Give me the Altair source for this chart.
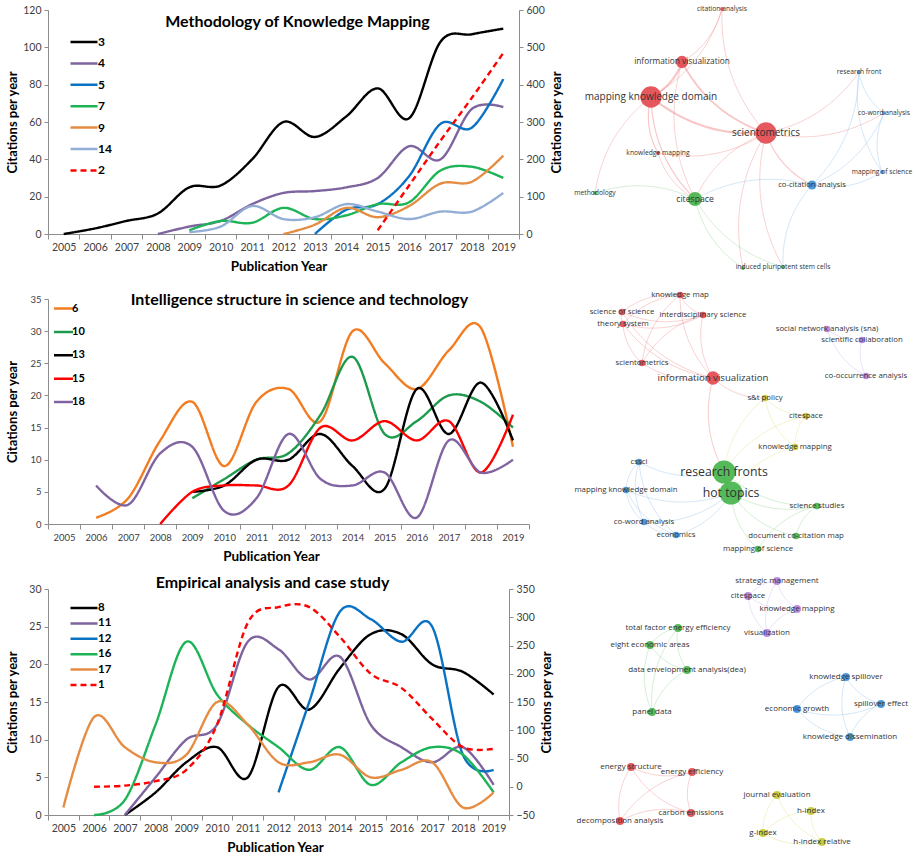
import numpy as np
import pandas as pd
import altair as alt

# ------------------------------------------------------------------ data
YEARS = [2005, 2006, 2007, 2008, 2009, 2010, 2011, 2012, 2013, 2014, 2015, 2016, 2017, 2018, 2019]

# Panel A : Methodology of Knowledge Mapping
A_NAMES = ["3", "4", "5", "7", "9", "14"]
A_3 = [0, 3, 7, 11, 25, 26, 40, 60, 52, 63, 78, 62, 103, 107, 110]
A_4 = [None, None, None, 0, 4, 7, 16, 22, 23, 25, 30, 47, 40, 67, 68]
A_5 = [None, None, None, None, None, None, None, None, 0, 13, 16, 31, 59, 57, 83]
A_7 = [None, None, None, None, 2, 7, 6, 14, 8, 10, 16, 17, 34, 36, 30]
A_9 = [None, None, None, None, None, None, None, 0, 5, 14, 9, 15, 27, 28, 42]
A_14 = [None, None, None, None, 1, 4, 15, 8, 9, 16, 12, 8, 12, 12, 22]
A_RIGHT_NAME = "2"
A_2 = [None, None, None, None, None, None, None, None, None, None, 10, 130, 250, 365, 485]

# Panel B : Intelligence structure in science and technology
B_NAMES = ["6", "10", "13", "15", "18"]
B_6 = [None, 1, 4, 13, 19, 9, 19, 21, 16, 30, 25, 21, 27, 30.5, 12]
B_10 = [None, None, None, None, 4, 7, 10, 11, 17, 26, 14, 16, 20, 19, 15]
B_13 = [None, None, None, None, 5, 6, 10, 10, 14, 9, 5.5, 21, 14, 22, 13]
B_15 = [None, None, None, 0, 5, 6, 6, 6, 15, 13, 16, 13, 16, 8, 17]
B_18 = [None, 6, 3, 11, 12, 2, 4, 14, 7, 6, 8, 1, 13, 8, 10]

# Panel C : Empirical analysis and case study
C_NAMES = ["8", "11", "12", "16", "17"]
C_8 = [None, None, 0, 3, 7, 9, 5, 17, 14, 19.5, 24, 24, 20, 19, 16]
C_11 = [None, None, 0, 5, 10, 12, 23, 22, 18, 21, 12, 9, 7, 9, 4]
C_12 = [None, None, None, None, None, None, None, 3, 15, 27, 26, 23, 25, 8, 6]
C_16 = [None, 0, 2, 12, 23, 16, 12, 9, 6, 9, 4, 7, 9, 8, 3]
C_17 = [1, 13, 9, 7, 8, 15, 12, 7, 7, 8, 5, 6, 7, 1, 3]
C_RIGHT_NAME = "1"
C_1 = [None, 0, 2, 10, 30, 110, 290, 318, 318, 265, 200, 175, 120, 70, 67]

# Keyword networks (layout coordinates, weight, cluster)
N1_ID = ["citation analysis", "information visualization", "mapping knowledge domain",
         "scientometrics", "knowledge mapping", "methodology", "citespace",
         "co-citation analysis", "research front", "co-word analysis", "mapping of science",
         "induced (hidden)", "induced pluripotent stem cells"]
N1_TEXT = ["citation analysis", "information visualization", "mapping knowledge domain",
           "scientometrics", "knowledge mapping", "methodology", "citespace",
           "co-citation analysis", "research front", "co-word analysis", "mapping of science",
           "", "induced pluripotent stem cells"]
N1_X = [163, 123, 92, 207, 99, 36, 136, 253, 300, 325, 323, 184, 224]
N1_Y = [9, 62, 97, 133, 153, 193, 199, 185, 72, 113, 172, 268, 267]
N1_W = [1.5, 15, 45, 45, 1.5, 1.5, 20, 8, 1.5, 1.5, 1.5, 1.5, 1.5]
N1_C = ["red", "red", "red", "red", "red", "green", "green", "blue", "blue", "blue", "blue", "green", "green"]
N1_EDGES = [
    ("mapping knowledge domain", "information visualization", 3),
    ("mapping knowledge domain", "scientometrics", 3),
    ("information visualization", "scientometrics", 2.5),
    ("mapping knowledge domain", "citation analysis", 1),
    ("information visualization", "citation analysis", 1),
    ("citation analysis", "scientometrics", 1),
    ("mapping knowledge domain", "knowledge mapping", 1.5),
    ("mapping knowledge domain", "citespace", 1.5),
    ("mapping knowledge domain", "methodology", 1),
    ("knowledge mapping", "scientometrics", 1),
    ("knowledge mapping", "citespace", 1),
    ("information visualization", "citespace", 1),
    ("scientometrics", "citespace", 1),
    ("scientometrics", "research front", 1),
    ("scientometrics", "co-word analysis", 1),
    ("scientometrics", "co-citation analysis", 1.5),
    ("scientometrics", "induced (hidden)", 1),
    ("scientometrics", "induced pluripotent stem cells", 1),
    ("citespace", "methodology", 1),
    ("citespace", "induced (hidden)", 1),
    ("citespace", "induced pluripotent stem cells", 1),
    ("co-citation analysis", "citespace", 1),
    ("co-citation analysis", "research front", 1),
    ("co-citation analysis", "co-word analysis", 1),
    ("co-citation analysis", "mapping of science", 1),
    ("research front", "co-word analysis", 1),
    ("research front", "mapping of science", 1),
    ("co-word analysis", "mapping of science", 1),
    ("co-citation analysis", "induced pluripotent stem cells", 1),
]

N2_ID = ["knowledge map", "science of science", "interdisciplinary science", "theory system",
         "scientometrics", "information visualization", "social network analysis (sna)",
         "scientific collaboration", "co-occurrence analysis", "s&t policy", "citespace",
         "knowledge mapping", "cssci", "research fronts", "hot topics",
         "mapping knowledge domain", "science studies", "co-word analysis", "economics",
         "document co-citation map", "mapping of science"]
N2_X = [121, 63, 144, 64, 83, 154, 268, 303, 307, 206, 247, 236, 80, 165, 172, 67, 258, 85, 117, 237, 199]
N2_Y = [15, 32, 35, 44, 83, 98, 49, 60, 96, 118, 136, 167, 182, 192, 213, 210, 226, 242, 255, 256, 269]
N2_W = [5, 5, 5, 5, 5, 20, 5, 5, 5, 5, 5, 5, 5, 60, 60, 5, 5, 5, 5, 5, 5]
N2_C = ["red", "red", "red", "red", "red", "red", "purple", "purple", "purple", "yellow", "yellow",
        "yellow", "blue", "green", "green", "blue", "green", "blue", "blue", "green", "green"]
N2_EDGES = [
    ("knowledge map", "science of science", 1), ("knowledge map", "theory system", 1),
    ("knowledge map", "interdisciplinary science", 1), ("knowledge map", "scientometrics", 1),
    ("knowledge map", "information visualization", 1),
    ("science of science", "interdisciplinary science", 1), ("science of science", "theory system", 1),
    ("science of science", "information visualization", 1),
    ("theory system", "interdisciplinary science", 1), ("theory system", "scientometrics", 1),
    ("theory system", "information visualization", 1),
    ("interdisciplinary science", "scientometrics", 1),
    ("interdisciplinary science", "information visualization", 1),
    ("scientometrics", "information visualization", 1),
    ("information visualization", "research fronts", 1.2),
    ("information visualization", "s&t policy", 1),
    ("s&t policy", "citespace", 1), ("s&t policy", "knowledge mapping", 1),
    ("citespace", "knowledge mapping", 1), ("s&t policy", "research fronts", 1),
    ("citespace", "research fronts", 1), ("knowledge mapping", "hot topics", 1),
    ("cssci", "mapping knowledge domain", 1), ("cssci", "co-word analysis", 1),
    ("cssci", "economics", 1), ("mapping knowledge domain", "co-word analysis", 1),
    ("co-word analysis", "economics", 1), ("mapping knowledge domain", "economics", 1),
    ("cssci", "research fronts", 1), ("mapping knowledge domain", "hot topics", 1),
    ("co-word analysis", "hot topics", 1), ("economics", "hot topics", 1),
    ("research fronts", "hot topics", 2),
    ("hot topics", "science studies", 1), ("hot topics", "document co-citation map", 1),
    ("hot topics", "mapping of science", 1), ("science studies", "document co-citation map", 1),
    ("science studies", "mapping of science", 1), ("research fronts", "science studies", 1),
    ("social network analysis (sna)", "scientific collaboration", 1),
    ("social network analysis (sna)", "co-occurrence analysis", 1),
    ("scientific collaboration", "co-occurrence analysis", 1),
]

N3_ID = ["strategic management", "citespace", "knowledge mapping", "visualization",
         "total factor energy efficiency", "eight economic areas", "data envelopment analysis(dea)",
         "panel data", "knowledge spillover", "economic growth", "spillover effect",
         "knowledge dissemination", "energy structure", "energy efficiency", "carbon emissions",
         "decomposition analysis", "journal evaluation", "h-index", "g-index", "h-index relative"]
N3_X = [218, 189, 238, 208, 119, 91, 128, 93, 287, 238, 322, 291, 72, 133, 132, 61, 218, 252, 204, 263]
N3_Y = [16, 31, 44, 68, 63, 80, 105, 147, 112, 144, 139, 172, 202, 207, 248, 256, 230, 246, 268, 277]
N3_W = [5, 5, 5, 5, 5, 5, 5, 5, 5, 5, 5, 5, 5, 5, 5, 5, 5, 5, 5, 5]
N3_C = ["purple", "purple", "purple", "purple", "green", "green", "green", "green",
        "blue", "blue", "blue", "blue", "red", "red", "red", "red",
        "yellow", "yellow", "yellow", "yellow"]
N3_EDGES = [
    ("strategic management", "citespace", 1), ("strategic management", "knowledge mapping", 1),
    ("strategic management", "visualization", 1), ("citespace", "knowledge mapping", 1),
    ("citespace", "visualization", 1), ("knowledge mapping", "visualization", 1),
    ("total factor energy efficiency", "eight economic areas", 1),
    ("total factor energy efficiency", "data envelopment analysis(dea)", 1),
    ("total factor energy efficiency", "panel data", 1),
    ("eight economic areas", "data envelopment analysis(dea)", 1),
    ("eight economic areas", "panel data", 1),
    ("data envelopment analysis(dea)", "panel data", 1),
    ("knowledge spillover", "economic growth", 1), ("knowledge spillover", "spillover effect", 1),
    ("knowledge spillover", "knowledge dissemination", 1), ("economic growth", "spillover effect", 1),
    ("economic growth", "knowledge dissemination", 1), ("spillover effect", "knowledge dissemination", 1),
    ("energy structure", "carbon emissions", 1), ("energy structure", "decomposition analysis", 1),
    ("energy efficiency", "decomposition analysis", 1), ("energy efficiency", "carbon emissions", 1),
    ("carbon emissions", "decomposition analysis", 1), ("energy structure", "energy efficiency", 1),
    ("journal evaluation", "h-index relative", 1), ("journal evaluation", "g-index", 1),
    ("h-index", "g-index", 1), ("h-index", "h-index relative", 1), ("g-index", "h-index relative", 1),
]

# ------------------------------------------------------------------ styles
FONT = "Lato"
NET_FONT = "Open Sans"
AXIS_GRAY = "#8c8c8c"
LABEL_COLOR = "#404040"
CLUSTERS = ["red", "green", "blue", "yellow", "purple"]
NODE_COLORS = ["#e2474c", "#43b347", "#3a8fd6", "#c6c62c", "#b280df"]
EDGE_COLORS = ["#ee8284", "#8bd189", "#8abbe9", "#dede72", "#cdaaee"]

A_COLORS = ["#000000", "#7e649e", "#0a72c2", "#1db457", "#e58c43", "#93aed6", "#ff0000"]
B_COLORS = ["#f47c20", "#1e9a4c", "#000000", "#ff0000", "#8064a2"]
C_COLORS = ["#000000", "#7e649e", "#0a72c2", "#1db457", "#e58c43", "#ff0000"]


def long_df(names, arrays):
    rows = []
    for n, arr in zip(names, arrays):
        for yr, v in zip(YEARS, arr):
            if v is not None:
                rows.append({"year": yr, "value": v, "series": n})
    return pd.DataFrame(rows)


def x_enc(show_axis, label_size, title_x):
    if show_axis:
        axis = alt.Axis(title="Publication Year", labelAngle=0, tickBand="extent", tickSize=5,
                        tickColor=AXIS_GRAY, domainColor=AXIS_GRAY, labelColor=LABEL_COLOR,
                        labelFont=FONT, labelFontSize=label_size, labelPadding=3,
                        titleFont=FONT, titleFontSize=13.5, titleFontWeight="bold", titleColor="black",
                        titleX=title_x, titleY=32, titleBaseline="middle", titleAlign="center",
                        grid=False, labelOverlap=False)
    else:
        axis = None
    return alt.X("year:O", scale=alt.Scale(type="band", domain=YEARS, paddingInner=0, paddingOuter=0),
                 bandPosition=0.5, axis=axis)


def y_axis(orient, ticks, height, label_size, title_x):
    return alt.Axis(orient=orient, title="Citations per year", values=ticks, tickSize=4,
                    tickColor=AXIS_GRAY, domainColor=AXIS_GRAY, labelColor=LABEL_COLOR,
                    labelFont=FONT, labelFontSize=label_size, labelPadding=3,
                    titleFont=FONT, titleFontSize=13, titleFontWeight="bold", titleColor="black",
                    titleAngle=270, titleX=title_x, titleY=height / 2, titleBaseline="middle",
                    titleAlign="center", grid=False)


def line_layers(names, arrays, colors, right_name, right_arr, ldom, lticks, rdom, rticks,
                height, label_size, legend_cfg, title_x):
    all_names = names + ([right_name] if right_name else [])
    dashes = [[1, 0]] * len(names) + ([[6, 4]] if right_name else [])
    leg = alt.Legend(title=None, orient="none", legendX=legend_cfg["x"], legendY=legend_cfg["y"],
                     symbolType="M-3,0H3", symbolSize=legend_cfg["size"], symbolStrokeWidth=2.5,
                     labelFont=FONT, labelFontSize=legend_cfg["font"], labelFontWeight="bold",
                     labelColor="black", rowPadding=legend_cfg["row"], labelOffset=legend_cfg["off"],
                     padding=0)
    color = alt.Color("series:N", scale=alt.Scale(domain=all_names, range=colors), legend=leg)
    dash = alt.StrokeDash("series:N", scale=alt.Scale(domain=all_names, range=dashes), legend=leg)
    left = alt.Chart(long_df(names, arrays)).mark_line(
        interpolate="cardinal", tension=0, strokeWidth=2.4
    ).encode(
        x=x_enc(True, label_size, title_x),
        y=alt.Y("value:Q", scale=alt.Scale(domain=ldom, nice=False, zero=False),
                axis=y_axis("left", lticks, height, label_size, -36)),
        color=color, strokeDash=dash,
    )
    layers = [left]
    if right_name:
        right = alt.Chart(long_df([right_name], [right_arr])).mark_line(
            interpolate="cardinal", tension=0, strokeWidth=2.4
        ).encode(
            x=x_enc(False, label_size, title_x),
            y=alt.Y("value:Q", scale=alt.Scale(domain=rdom, nice=False, zero=False),
                    axis=y_axis("right", rticks, height, label_size, 37)),
            color=color, strokeDash=dash,
        )
        layers.append(right)
    return layers


def network_layers(ids, texts, xs, ys, ws, cs, edges, yr, ydom, wmax, area_max, font_rng):
    pos = {i: (x, y) for i, x, y in zip(ids, xs, ys)}
    clus = {i: c for i, c in zip(ids, cs)}
    ts = np.linspace(0.0, 1.0, 17)
    rows = []
    for k, (a, b, s) in enumerate(edges):
        p0 = np.array(pos[a], dtype=float)
        p2 = np.array(pos[b], dtype=float)
        d = p2 - p0
        ctrl = (p0 + p2) / 2 + 0.2 * np.array([-d[1], d[0]])
        for j, t in enumerate(ts):
            p = (1 - t) ** 2 * p0 + 2 * (1 - t) * t * ctrl + t ** 2 * p2
            rows.append({"edge": k, "t": j, "x": p[0], "y": p[1], "cluster": clus[a], "s": s})
    edf = pd.DataFrame(rows)
    ndf = pd.DataFrame({"id": ids, "text": texts, "x": xs, "y": ys, "w": ws, "cluster": cs})
    xsc = alt.Scale(domain=[0, 356], range=[511, 867], nice=False, zero=False)
    ysc = alt.Scale(domain=[0, ydom], range=yr, nice=False, zero=False)
    X = alt.X("x:Q", scale=xsc, axis=None)
    Y = alt.Y("y:Q", scale=ysc, axis=None)
    e = alt.Chart(edf).mark_line(strokeOpacity=0.45).encode(
        x=X, y=Y, detail="edge:N", order="t:Q",
        stroke=alt.Stroke("cluster:N", scale=alt.Scale(domain=CLUSTERS, range=EDGE_COLORS), legend=None),
        strokeWidth=alt.StrokeWidth("s:Q", scale=alt.Scale(domain=[1, 3], range=[0.8, 2.2]), legend=None),
    )
    n = alt.Chart(ndf).mark_circle(opacity=0.9, strokeWidth=0).encode(
        x=X, y=Y,
        fill=alt.Fill("cluster:N", scale=alt.Scale(domain=CLUSTERS, range=NODE_COLORS), legend=None),
        size=alt.Size("w:Q", scale=alt.Scale(domain=[0, wmax], range=[0, area_max], nice=False), legend=None),
    )
    t = alt.Chart(ndf).mark_text(font=NET_FONT, color="#333333", align="center", baseline="middle").encode(
        x=X, y=Y, text="text:N",
        size=alt.Size("w:Q", scale=alt.Scale(type="sqrt", domain=[0, wmax], range=font_rng, nice=False),
                      legend=None),
    )
    return [e, n, t]


def title(text, dx, dy):
    return alt.TitleParams(text=text, anchor="middle", frame="group", baseline="middle", offset=0,
                           dx=dx, dy=dy, font=FONT, fontSize=16, fontWeight="bold", color="black")


# ------------------------------------------------------------------ rows
W1, H1 = 471, 224
row1 = alt.layer(
    *line_layers(A_NAMES, [A_3, A_4, A_5, A_7, A_9, A_14], A_COLORS, A_RIGHT_NAME, A_2,
                 [0, 120], [0, 20, 40, 60, 80, 100, 120], [0, 600], [0, 100, 200, 300, 400, 500, 600],
                 H1, 10.5, {"x": 30, "y": 26, "size": 81, "font": 12, "row": 9.4, "off": 8}, W1 / 2 - 5),
    *network_layers(N1_ID, N1_TEXT, N1_X, N1_Y, N1_W, N1_C, N1_EDGES, [-10, 270], 280, 45, 452, [6, 10]),
).resolve_scale(x="independent", y="independent", size="independent").properties(
    width=W1, height=H1, title=title("Methodology of Knowledge Mapping", 14, 33))

W2, H2 = 481, 225
row2 = alt.layer(
    *line_layers(B_NAMES, [B_6, B_10, B_13, B_15, B_18], B_COLORS, None, None,
                 [0, 35], [0, 5, 10, 15, 20, 25, 30, 35], None, None,
                 H2, 9.5, {"x": 10, "y": 4, "size": 40, "font": 11, "row": 11.4, "off": 3}, 223),
    *network_layers(N2_ID, N2_ID, N2_X, N2_Y, N2_W, N2_C, N2_EDGES, [-19, 271], 290, 60, 530, [6, 12.3]),
).resolve_scale(x="independent", y="independent", size="independent").properties(
    width=W2, height=H2, title=title("Intelligence structure in science and technology", 11, 25))

W3, H3 = 461, 226
row3 = alt.layer(
    *line_layers(C_NAMES, [C_8, C_11, C_12, C_16, C_17], C_COLORS, C_RIGHT_NAME, C_1,
                 [0, 30], [0, 5, 10, 15, 20, 25, 30], [-50, 350],
                 [-50, 0, 50, 100, 150, 200, 250, 300, 350],
                 H3, 10.5, {"x": 30, "y": 13, "size": 81, "font": 11.5, "row": 3.4, "off": 8}, 227),
    *network_layers(N3_ID, N3_ID, N3_X, N3_Y, N3_W, N3_C, N3_EDGES, [-24, 267], 291, 10, 128, [6, 8.8]),
).resolve_scale(x="independent", y="independent", size="independent").properties(
    width=W3, height=H3, title=title("Empirical analysis and case study", -6, 22))

chart = alt.vconcat(row1, row2, row3, spacing=65, bounds="flush").resolve_scale(
    color="independent", strokeDash="independent", stroke="independent", fill="independent",
    size="independent", strokeWidth="independent"
).properties(
    padding={"left": 6, "top": 5, "right": 0, "bottom": 0}, background="white"
).configure_view(stroke=None)

chart.save("out.html", embed_options={"renderer": "svg", "actions": False})
